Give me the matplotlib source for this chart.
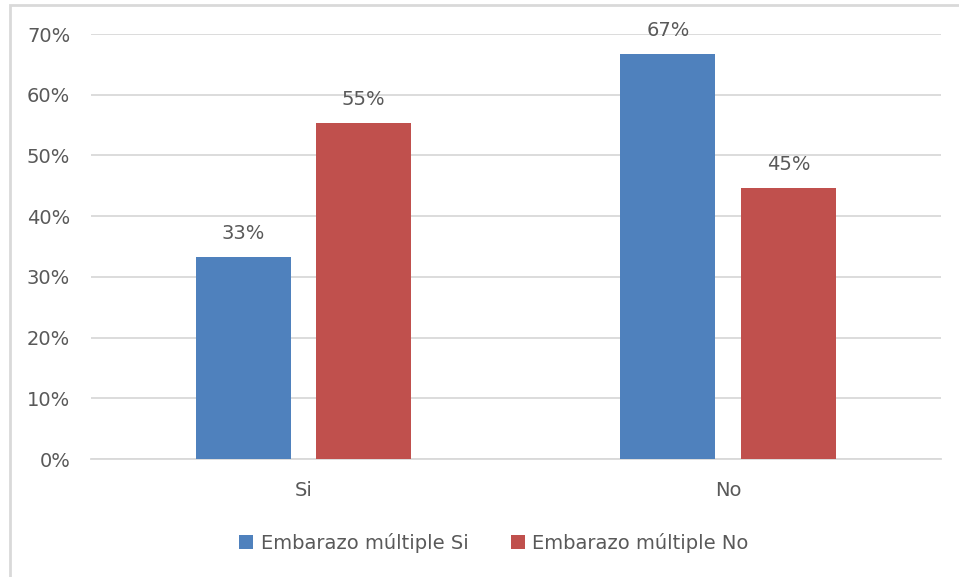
#!/usr/bin/env python3
import matplotlib
matplotlib.use('Agg')
import matplotlib.pyplot as plt
from matplotlib.patches import Rectangle
from matplotlib.ticker import FuncFormatter, MultipleLocator

categories = ['Si', 'No']
series_names = ['Embarazo múltiple Si', 'Embarazo múltiple No']
embarazo_si = [0.333, 0.667]
embarazo_no = [0.554, 0.446]
labels_si = ['33%', '67%']
labels_no = ['55%', '45%']

blue = '#4F81BD'
red = '#C0504D'
grey_text = '#595959'
grid_col = '#D9D9D9'

plt.rcParams['font.family'] = ['DejaVu Sans']

fig = plt.figure(figsize=(9.59, 5.77), dpi=100)
ax = fig.add_axes([0.0949, 0.2045, 0.886, 0.7365])

# light border around the chart area (runs off the right/bottom edges)
fig.patches.append(Rectangle((10 / 959, -0.05), 1.1, 1 - 5 / 577 + 0.05,
                             transform=fig.transFigure, fill=False,
                             edgecolor='#D9D9D9', linewidth=2))

x = range(len(categories))
w = 0.2235
off = 0.142
b1 = ax.bar([i - off for i in x], embarazo_si, w, color=blue, label=series_names[0], zorder=3)
b2 = ax.bar([i + off for i in x], embarazo_no, w, color=red, label=series_names[1], zorder=3)

for bars, lbls in ((b1, labels_si), (b2, labels_no)):
    for rect, lbl in zip(bars, lbls):
        ax.annotate(lbl, xy=(rect.get_x() + rect.get_width() / 2, rect.get_height()),
                    xytext=(0, 10), textcoords='offset points', ha='center', va='bottom',
                    fontsize=14, color=grey_text)

ax.set_xlim(-0.5, 1.5)
ax.set_ylim(0, 0.7)
ax.yaxis.set_major_locator(MultipleLocator(0.1))
ax.yaxis.set_major_formatter(FuncFormatter(lambda v, p: f'{v * 100:.0f}%'))
ax.set_xticks(list(x))
ax.set_xticklabels(categories)
ax.grid(axis='y', color=grid_col, linewidth=1.3, zorder=0)
for s in ['top', 'right', 'left']:
    ax.spines[s].set_visible(False)
ax.spines['bottom'].set_color(grid_col)
ax.spines['bottom'].set_linewidth(1.3)
ax.tick_params(axis='both', length=0, labelsize=14, labelcolor=grey_text)
ax.tick_params(axis='y', pad=15)
ax.tick_params(axis='x', pad=16)

ax.legend(loc='center', bbox_to_anchor=(494 / 959, 1 - 543 / 577), bbox_transform=fig.transFigure,
          ncols=2, frameon=False, fontsize=14, labelcolor=grey_text,
          handlelength=0.7, handleheight=0.7, handletextpad=0.4, columnspacing=2.2)

plt.savefig('out.png', dpi=100)
